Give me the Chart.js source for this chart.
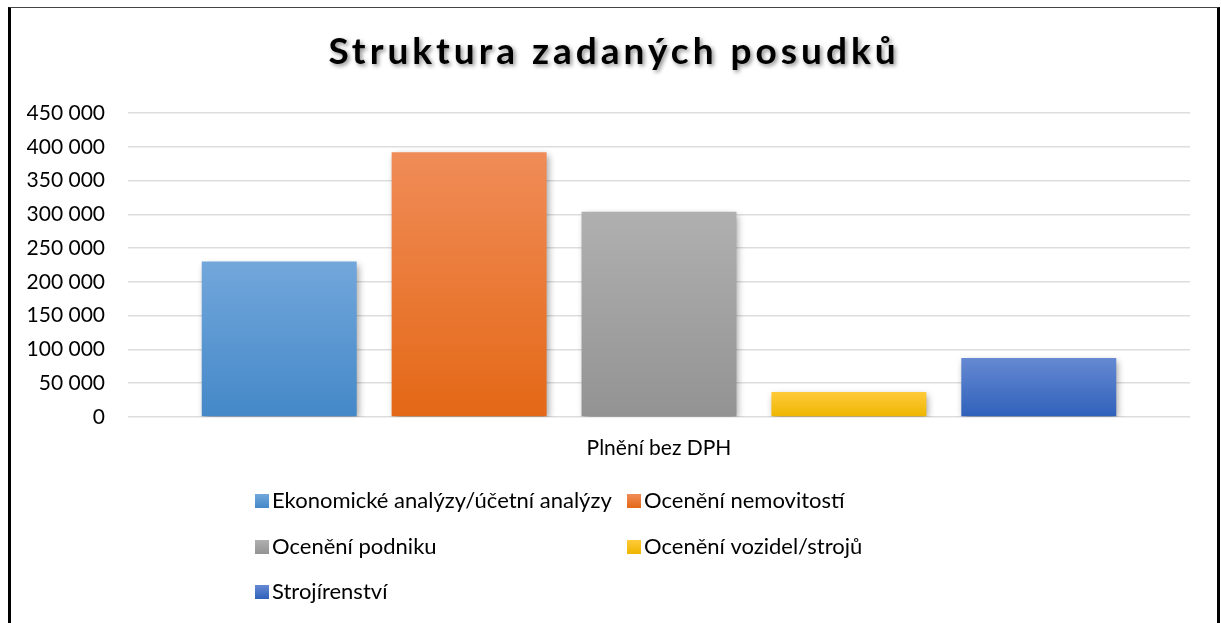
<!DOCTYPE html>
<html>
<head>
<meta charset="utf-8">
<script src="https://cdn.jsdelivr.net/npm/chart.js@4"></script>
<style>
  html, body { margin: 0; padding: 0; background: #fff; }
  #wrap { position: relative; width: 1221px; height: 623px; overflow: hidden; }
  #frame { position: absolute; left: 8px; top: 7px; width: 1206px; height: 640px;
           border-left: 3px solid #000; border-right: 3px solid #000; border-top: 1px solid #444; }
  canvas { position: absolute; left: 0; top: 0; }
</style>
</head>
<body>
<div id="wrap">
  <div id="frame"></div>
  <canvas id="canvas" width="1221" height="623"></canvas>
</div>
<script>
var chartTitle = "Struktura zadaných posudků";
var categories = ["Plnění bez DPH"];
var seriesNames = [
  "Ekonomické analýzy/účetní analýzy",
  "Ocenění nemovitostí",
  "Ocenění podniku",
  "Ocenění vozidel/strojů",
  "Strojírenství"
];
var seriesValues = [230000, 392000, 304000, 37000, 87500];
var yMin = 0;
var yMax = 450000;
var yStep = 50000;

// top / bottom colour of each bar's gradient
var topColors = ["#72a7db", "#f08c58", "#b0b0b0", "#ffca3a", "#6689d2"];
var bottomColors = ["#4488c8", "#e46816", "#939393", "#eeb600", "#2f61ba"];

var FONT = "Lato, 'Open Sans', sans-serif";

function fmt(v){
  return String(v).replace(/\B(?=(\d{3})+(?!\d))/g, " ");
}

function barGradient(i){
  return function(context){
    var chart = context.chart;
    var area = chart.chartArea;
    if (!area) return topColors[i];
    var y = chart.scales.y;
    var top = y.getPixelForValue(seriesValues[i]);
    var bottom = y.getPixelForValue(0);
    if (bottom - top < 1) return topColors[i];
    var g = chart.ctx.createLinearGradient(0, top, 0, bottom);
    g.addColorStop(0, topColors[i]);
    g.addColorStop(1, bottomColors[i]);
    return g;
  };
}

var datasets = [];
for (var i = 0; i < seriesNames.length; i++){
  datasets.push({
    label: seriesNames[i],
    data: [seriesValues[i]],
    backgroundColor: barGradient(i),
    borderWidth: 0,
    categoryPercentage: 0.894,
    barPercentage: 0.816
  });
}

var shadowPlugin = {
  id: "barShadow",
  beforeDatasetsDraw: function(chart){
    var ctx = chart.ctx;
    ctx.save();
    ctx.shadowColor = "rgba(0,0,0,0.38)";
    ctx.shadowBlur = 7;
    ctx.shadowOffsetX = 2;
    ctx.shadowOffsetY = 3;
  },
  afterDatasetsDraw: function(chart){
    chart.ctx.restore();
  }
};

var titlePlugin = {
  id: "shadowTitle",
  afterDraw: function(chart){
    var ctx = chart.ctx;
    ctx.save();
    ctx.font = "bold 37px " + FONT;
    ctx.letterSpacing = "4px";
    ctx.textAlign = "center";
    ctx.textBaseline = "alphabetic";
    ctx.shadowColor = "rgba(0,0,0,0.45)";
    ctx.shadowBlur = 4;
    ctx.shadowOffsetX = 2;
    ctx.shadowOffsetY = 2;
    ctx.fillStyle = "#000";
    ctx.fillText(chartTitle, 614, 64);
    ctx.restore();
  }
};

var legendPlugin = {
  id: "gridLegend",
  afterDraw: function(chart){
    var ctx = chart.ctx;
    var colX = [255, 627];
    var rowY = [501, 547, 592];
    ctx.save();
    ctx.font = "22px " + FONT;
    ctx.textBaseline = "middle";
    ctx.textAlign = "left";
    chart.data.datasets.forEach(function(ds, i){
      var x = colX[i % 2];
      var y = rowY[Math.floor(i / 2)];
      var g = ctx.createLinearGradient(0, y - 7, 0, y + 7);
      g.addColorStop(0, topColors[i]);
      g.addColorStop(1, bottomColors[i]);
      ctx.fillStyle = g;
      ctx.fillRect(x, y - 7, 14, 14);
      ctx.fillStyle = "#000";
      ctx.fillText(ds.label, x + 17, y);
    });
    ctx.restore();
  }
};

var ctx = document.getElementById("canvas").getContext("2d");
new Chart(ctx, {
  type: "bar",
  data: { labels: categories, datasets: datasets },
  options: {
    responsive: false,
    animation: false,
    layout: { padding: { left: 27, right: 31, top: 113, bottom: 0 } },
    plugins: {
      legend: { display: false },
      title: { display: false },
      tooltip: { enabled: false }
    },
    scales: {
      x: {
        grid: { display: false, drawTicks: false },
        border: { display: false },
        ticks: { color: "#000", font: { family: FONT, size: 21 }, padding: 19 },
        afterFit: function(scale){ scale.height = 206; }
      },
      y: {
        min: yMin,
        max: yMax,
        grid: { color: "#dddddd", lineWidth: 1.5, drawTicks: false },
        border: { display: false },
        ticks: {
          stepSize: yStep,
          color: "#000",
          font: { family: FONT, size: 21 },
          padding: 23,
          callback: function(v){ return fmt(v); }
        },
        afterFit: function(scale){ scale.width = 101; }
      }
    }
  },
  plugins: [shadowPlugin, titlePlugin, legendPlugin]
});
</script>
</body>
</html>
